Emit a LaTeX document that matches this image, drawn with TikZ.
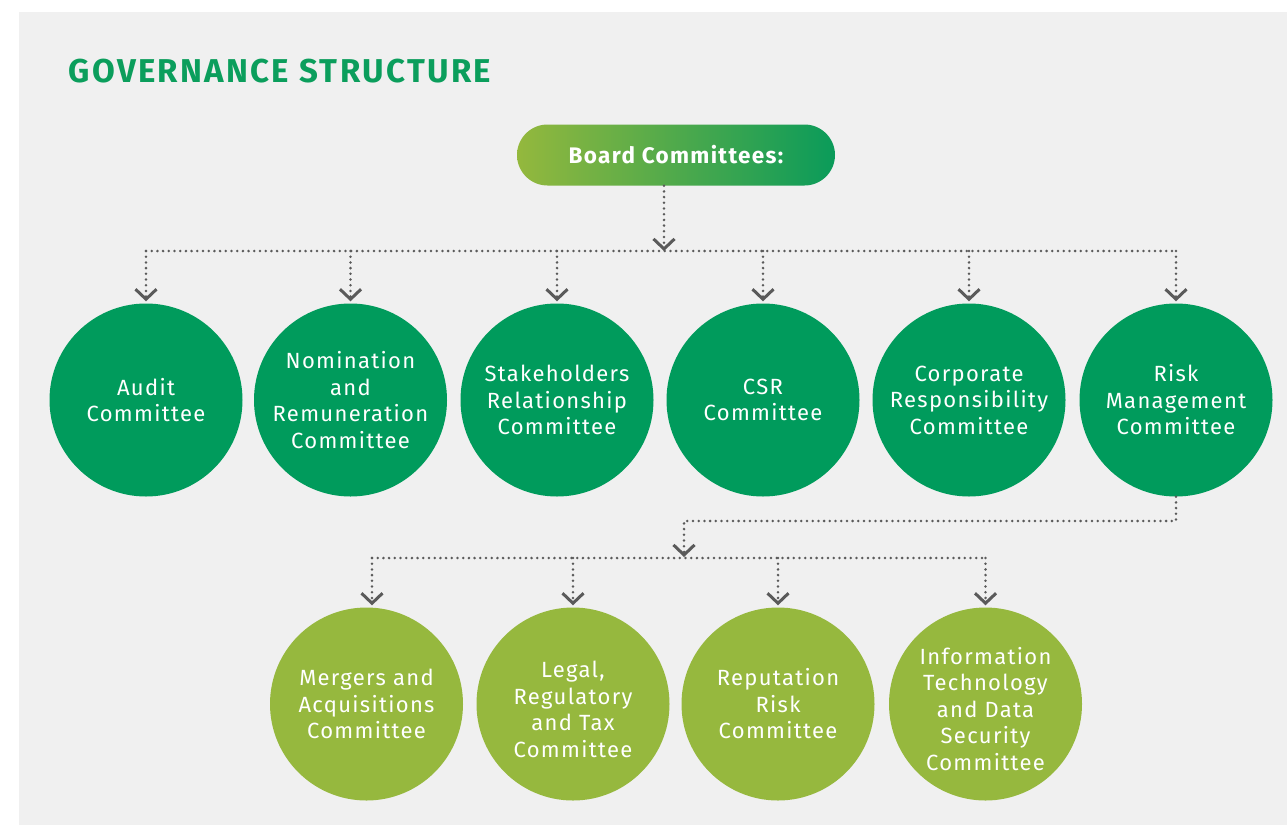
\documentclass[tikz,border=0pt]{standalone}
\usepackage{fontspec}
\setmainfont{Fira Sans}
\newfontfamily\circfont[LetterSpace=6]{Fira Sans}
\newfontfamily\headfont[LetterSpace=7]{Fira Sans}
\newfontfamily\pillfont[LetterSpace=6]{Fira Sans}
\usetikzlibrary{arrows.meta}
\definecolor{bg}{HTML}{F0F0F0}
\definecolor{dkgreen}{HTML}{009B5C}
\definecolor{ltgreen}{HTML}{96B83E}
\definecolor{dotgray}{HTML}{5A5A5A}
\definecolor{titlegreen}{HTML}{0B9E5C}
\definecolor{pillleft}{HTML}{94B83D}
\definecolor{pillright}{HTML}{0A9B5A}
\newcommand\lowtext[1]{\raisebox{-8pt}[\height][\depth]{\begin{tabular}{@{}c@{}}#1\end{tabular}}}
\begin{document}
\begin{tikzpicture}[x=1pt,y=-1pt,
  comm/.style={circle, minimum size=193pt, inner sep=0pt, align=center, text=white,
    font=\circfont\fontsize{22}{26.5}\selectfont},
  dk/.style={comm, fill=dkgreen},
  lt/.style={comm, fill=ltgreen},
  conn/.style={draw=dotgray, line width=2.8pt, line cap=round, dash pattern=on 0pt off 5.7pt},
  arr/.style={conn, -{Straight Barb[length=10pt,width=21pt,line width=3pt]}},
  pill/.style={rounded corners=30.5pt, minimum width=318pt, minimum height=61pt, inner sep=0pt,
    left color=pillleft, right color=pillright, text=white,
    font=\pillfont\bfseries\fontsize{22.5}{26}\selectfont},
  titlestyle/.style={anchor=west, text=titlegreen, font=\headfont\bfseries\fontsize{33}{36}\selectfont}
]
\useasboundingbox (0,0) rectangle (1287,825);
\fill[white] (0,0) rectangle (1287,825);
\fill[bg] (19,12) rectangle (1287,825);

\node[titlestyle] (title) at (65,71) {GOVERNANCE STRUCTURE};
\node[pill] (board) at (676,155) {Board Committees:};

\node[dk] (audit) at (146,400) {Audit\\Committee};
\node[dk] (nom) at (350.5,400) {Nomination\\and\\Remuneration\\Committee};
\node[dk] (stake) at (557,400) {Stakeholders\\Relationship\\Committee};
\node[dk] (csr) at (763,400) {CSR\\Committee};
\node[dk] (corp) at (969,400) {Corporate\\Responsibility\\Committee};
\node[dk] (risk) at (1176,400) {Risk\\Management\\Committee};

\node[lt] (merg) at (366.5,704) {Mergers and\\Acquisitions\\Committee};
\node[lt] (legal) at (573,704) {\lowtext{Legal,\\Regulatory\\and Tax\\Committee}};
\node[lt] (rep) at (778,704) {Reputation\\Risk\\Committee};
\node[lt] (it) at (985.5,704) {\lowtext{Information\\Technology\\and Data\\Security\\Committee}};

% upper connectors
\coordinate (j0) at (664,251);
\draw[arr] (board.south -| j0) -- (j0);
\draw[conn] (audit.north |- j0) -- (risk.north |- j0);
\foreach \n in {audit,nom,stake,csr,corp,risk}
  \draw[arr] (\n.north |- j0) -- ([yshift=2pt]\n.north);

% lower connectors
\coordinate (k1) at (1176,521);
\coordinate (j1) at (684,557);
\coordinate (m0) at (372,558);
\draw[arr] (risk.south) -- (risk.south |- k1) -- (j1 |- k1) -- (j1);
\draw[conn] (m0) -- (it.north |- m0);
\draw[arr] (m0) -- ([yshift=2pt]m0 |- merg.north);
\foreach \n in {legal,rep,it}
  \draw[arr] (\n.north |- m0) -- ([yshift=2pt]\n.north);
\end{tikzpicture}
\end{document}
